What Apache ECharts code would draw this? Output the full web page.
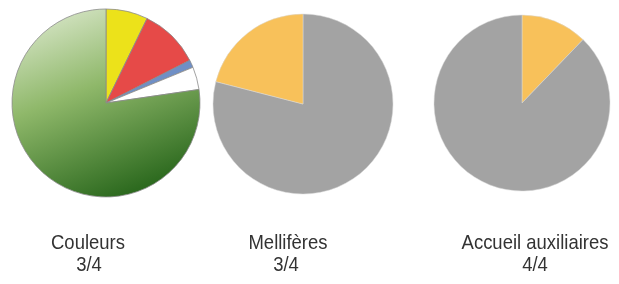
<!DOCTYPE html>
<html>
<head>
<meta charset="utf-8">
<script src="https://cdn.jsdelivr.net/npm/echarts@6/dist/echarts.min.js"></script>
<style>html,body{margin:0;padding:0;background:#fff;}#c{width:619px;height:284px;}</style>
</head>
<body>
<div id="c"></div>
<script>
const couleursNames = ['Jaune', 'Rouge', 'Bleu', 'Blanc', 'Vert'];
const couleursValues = [7.2, 10.3, 1.3, 3.9, 77.3];
const melliferesNames = ['Non', 'Oui'];
const melliferesValues = [79, 21];
const accueilNames = ['Oui', 'Non'];
const accueilValues = [12.2, 87.8];
const titles = ['Couleurs', 'Mellifères', 'Accueil auxiliaires'];
const scores = ['3/4', '3/4', '4/4'];

const chart = echarts.init(document.getElementById('c'));
const green = new echarts.graphic.LinearGradient(0.15, 0, 0.55, 1, [
  {offset: 0, color: '#dbe8cc'},
  {offset: 0.45, color: '#8fb86a'},
  {offset: 1, color: '#2d6a1f'}
]);
const c1Colors = ['#ece21a', '#e64a48', '#6f8fc6', '#ffffff', green];
const font = '21px "Liberation Sans", Arial, sans-serif';
const titleX = [88, 288, 535];
const scoreX = [89, 286, 535];

function mk(names, vals, colors) {
  return names.map((n, i) => ({name: n, value: vals[i], itemStyle: {color: colors[i]}}));
}

const texts = [];
titles.forEach((t, i) => {
  texts.push({type: 'text', x: titleX[i], y: 243, scaleX: 0.88, silent: true,
    style: {text: t, font: font, fill: '#333', align: 'center', verticalAlign: 'middle', textAlign: 'center', textVerticalAlign: 'middle'}});
  texts.push({type: 'text', x: scoreX[i], y: 265, scaleX: 0.88, silent: true,
    style: {text: scores[i], font: font, fill: '#333', align: 'center', verticalAlign: 'middle', textAlign: 'center', textVerticalAlign: 'middle'}});
});

chart.setOption({
  animation: false,
  graphic: texts,
  series: [
    {
      type: 'pie', center: [106, 103], radius: 94, startAngle: 90, clockwise: true,
      label: {show: false}, labelLine: {show: false}, silent: true,
      itemStyle: {borderColor: '#8a8a8a', borderWidth: 0.8},
      data: mk(couleursNames, couleursValues, c1Colors)
    },
    {
      type: 'pie', center: [303, 104], radius: 90, startAngle: 90, clockwise: true,
      label: {show: false}, labelLine: {show: false}, silent: true,
      itemStyle: {borderColor: '#d8d8d8', borderWidth: 0.5},
      data: mk(melliferesNames, melliferesValues, ['#a3a3a3', '#f8c15a'])
    },
    {
      type: 'pie', center: [522, 103], radius: 88, startAngle: 90, clockwise: true,
      label: {show: false}, labelLine: {show: false}, silent: true,
      itemStyle: {borderColor: '#d8d8d8', borderWidth: 0.5},
      data: mk(accueilNames, accueilValues, ['#f8c15a', '#a3a3a3'])
    }
  ]
});
</script>
</body>
</html>
